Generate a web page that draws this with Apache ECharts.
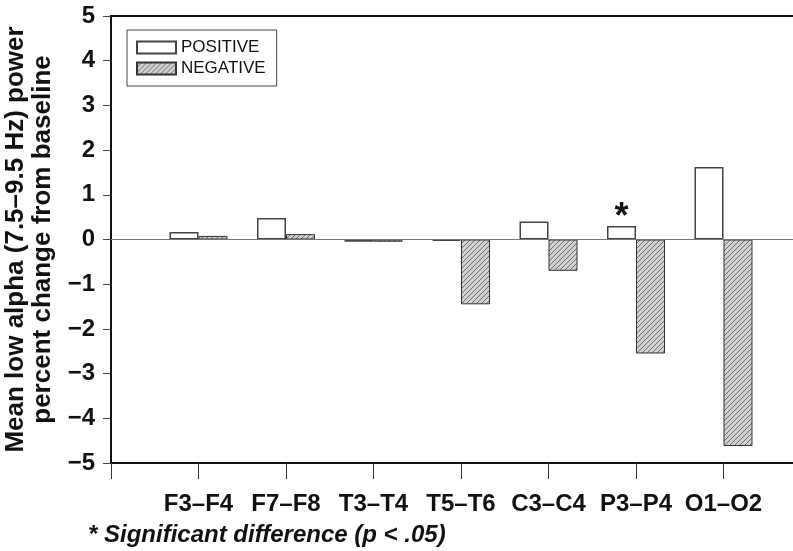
<!DOCTYPE html>
<html>
<head>
<meta charset="utf-8">
<script src="https://cdn.jsdelivr.net/npm/echarts@6/dist/echarts.min.js"></script>
<style>
html, body { margin: 0; padding: 0; background: #fff; }
#main { width: 793px; height: 551px; }
</style>
</head>
<body>
<div id="main"></div>
<script>
// electrode pairs and mean % change per group
var categories = ['F3–F4', 'F7–F8', 'T3–T4', 'T5–T6', 'C3–C4', 'P3–P4', 'O1–O2'];
var positive = [0.17, 0.48, -0.05, -0.03, 0.40, 0.30, 1.62];
var negative = [0.08, 0.12, -0.05, -1.45, -0.70, -2.55, -4.62];
var significant = ['P3–P4'];

// axis points: one empty slot at each end so pairs sit on the ticks
var points = [''].concat(categories, ['']);
function pad(arr) { return ['-'].concat(arr, ['-']); }

// hatched fill for the NEGATIVE bars
var hatch = document.createElement('canvas');
hatch.width = 5; hatch.height = 5;
var ctx = hatch.getContext('2d');
ctx.fillStyle = '#d0d0d0';
ctx.fillRect(0, 0, 5, 5);
ctx.strokeStyle = '#6e6e6e';
ctx.lineWidth = 1;
ctx.beginPath();
ctx.moveTo(0, 5); ctx.lineTo(5, 0);
ctx.moveTo(-1, 1); ctx.lineTo(1, -1);
ctx.moveTo(4, 6); ctx.lineTo(6, 4);
ctx.stroke();

var font = 'Liberation Sans, Arial, sans-serif';
var myChart = echarts.init(document.getElementById('main'));
var option = {
    animation: false,
    textStyle: { fontFamily: font },
    grid: {
        left: 111, top: 16, width: 700, height: 447,
        outerBoundsMode: 'none',
        show: true, borderColor: '#111', borderWidth: 2, backgroundColor: 'transparent'
    },
    legend: {
        data: ['POSITIVE', 'NEGATIVE'],
        orient: 'vertical',
        left: 127, top: 30,
        borderColor: '#444', borderWidth: 1,
        padding: [9, 11, 9, 9],
        itemWidth: 39, itemHeight: 12, itemGap: 4,
        icon: 'rect',
        textStyle: { fontSize: 17, color: '#111', fontFamily: font }
    },
    xAxis: {
        type: 'category',
        data: points,
        boundaryGap: false,
        axisLine: { show: false, onZero: false },
        axisTick: { show: true, inside: false, length: 16, lineStyle: { color: '#333', width: 1 } },
        axisLabel: { margin: 29, fontSize: 24, fontWeight: 'bold', color: '#111', interval: 0 },
        splitLine: { show: false }
    },
    yAxis: {
        type: 'value',
        min: -5, max: 5, interval: 1,
        axisLine: { show: true, lineStyle: { color: '#111', width: 2 } },
        axisTick: { show: true, inside: false, length: 8, lineStyle: { color: '#444' } },
        axisLabel: {
            margin: 16, fontSize: 24, fontWeight: 'bold', color: '#111',
            formatter: function (v) { return String(v).replace('-', '\u2212'); }
        },
        splitLine: { show: false },
        name: 'Mean low alpha (7.5\u20139.5 Hz) power\npercent change from baseline',
        nameLocation: 'middle',
        nameRotate: 90,
        nameGap: 48,
        nameTextStyle: { fontSize: 26, fontWeight: 'bold', color: '#111', lineHeight: 27 }
    },
    series: [
        {
            name: 'POSITIVE',
            type: 'bar',
            data: pad(positive),
            barWidth: 29,
            barGap: '0%',
            itemStyle: { color: '#fff', borderColor: '#444', borderWidth: 1.5 },
            markLine: {
                silent: true, symbol: 'none', label: { show: false },
                lineStyle: { color: '#777', width: 1, type: 'solid' },
                data: [{ yAxis: 0 }]
            },
            markPoint: {
                symbol: 'circle', symbolSize: 1,
                itemStyle: { color: 'transparent' },
                label: { show: true, formatter: '*', fontSize: 36, fontWeight: 'bold', color: '#111', position: 'inside' },
                data: significant.map(function (c) { return { coord: [c, 0.47] }; })
            }
        },
        {
            name: 'NEGATIVE',
            type: 'bar',
            data: pad(negative),
            barWidth: 29,
            barGap: '0%',
            itemStyle: { color: { image: hatch, repeat: 'repeat' }, borderColor: '#333', borderWidth: 1 }
        }
    ],
    graphic: [{
        type: 'text', left: 88, top: 523,
        style: {
            text: '* Significant difference (p < .05)',
            font: 'italic bold 24px ' + font,
            fill: '#111'
        }
    }]
};
myChart.setOption(option);
</script>
</body>
</html>
